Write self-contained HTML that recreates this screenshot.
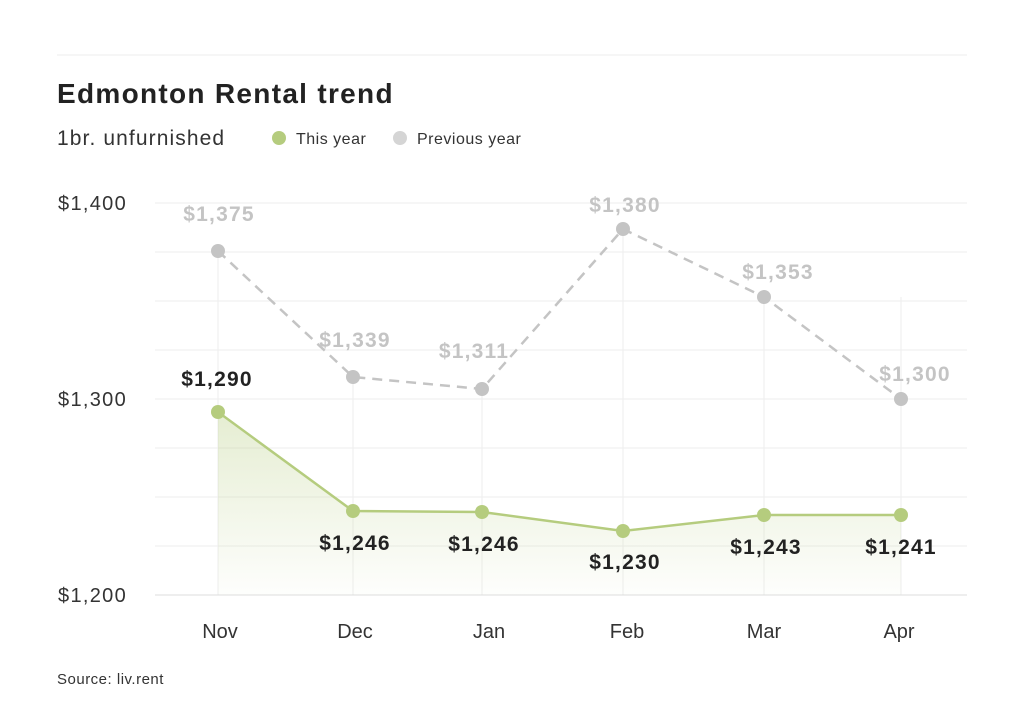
<!DOCTYPE html><html><head><style>body{margin:0;background:#fff}svg{display:block}</style></head><body>
<svg width="1024" height="717" xmlns="http://www.w3.org/2000/svg" font-family="Liberation Sans, sans-serif">
<defs><linearGradient id="g" x1="0" y1="0" x2="0" y2="1"><stop offset="0" stop-color="#b5cc7e" stop-opacity="0.35"/><stop offset="1" stop-color="#b5cc7e" stop-opacity="0.02"/></linearGradient></defs>
<line x1="57" y1="55" x2="967" y2="55" stroke="#eee"/>
<text x="57" y="103" font-size="28" font-weight="bold" fill="#222" letter-spacing="1.3">Edmonton Rental trend</text>
<text x="57" y="145" font-size="21" fill="#333" letter-spacing="1.1">1br. unfurnished</text>
<circle cx="279" cy="138" r="7" fill="#b5cc7e"/><text x="296" y="144" font-size="16" fill="#333" letter-spacing="0.5">This year</text>
<circle cx="400" cy="138" r="7" fill="#d5d5d5"/><text x="417" y="144" font-size="16" fill="#333" letter-spacing="0.5">Previous year</text>
<g stroke="#eee" stroke-width="1">
<line x1="155" y1="203" x2="967" y2="203"/><line x1="155" y1="252" x2="967" y2="252"/><line x1="155" y1="301" x2="967" y2="301"/><line x1="155" y1="350" x2="967" y2="350"/><line x1="155" y1="399" x2="967" y2="399"/><line x1="155" y1="448" x2="967" y2="448"/><line x1="155" y1="497" x2="967" y2="497"/><line x1="155" y1="546" x2="967" y2="546"/>
<line x1="218" y1="251" x2="218" y2="595"/><line x1="353" y1="377" x2="353" y2="595"/><line x1="482" y1="389" x2="482" y2="595"/><line x1="623" y1="229" x2="623" y2="595"/><line x1="764" y1="297" x2="764" y2="595"/><line x1="901" y1="297" x2="901" y2="595"/>
</g>
<line x1="155" y1="595" x2="967" y2="595" stroke="#ddd"/>
<g font-size="20" fill="#333" text-anchor="end" letter-spacing="1.3"><text x="127" y="210">$1,400</text><text x="127" y="406">$1,300</text><text x="127" y="602">$1,200</text></g>
<g font-size="20" fill="#333" text-anchor="middle"><text x="220" y="638">Nov</text><text x="355" y="638">Dec</text><text x="489" y="638">Jan</text><text x="627" y="638">Feb</text><text x="764" y="638">Mar</text><text x="899" y="638">Apr</text></g>
<path d="M218,412 L353,511 L482,512 L623,531 L764,515 L901,515 L901,595 L218,595Z" fill="url(#g)"/>
<polyline points="218,251 353,377 482,389 623,229 764,297 901,399" fill="none" stroke="#c4c4c4" stroke-width="2.5" stroke-dasharray="10,7"/>
<polyline points="218,412 353,511 482,512 623,531 764,515 901,515" fill="none" stroke="#b5cc7e" stroke-width="2.5"/>
<g fill="#c4c4c4"><circle cx="218" cy="251" r="7"/><circle cx="353" cy="377" r="7"/><circle cx="482" cy="389" r="7"/><circle cx="623" cy="229" r="7"/><circle cx="764" cy="297" r="7"/><circle cx="901" cy="399" r="7"/></g>
<g fill="#b5cc7e"><circle cx="218" cy="412" r="7"/><circle cx="353" cy="511" r="7"/><circle cx="482" cy="512" r="7"/><circle cx="623" cy="531" r="7"/><circle cx="764" cy="515" r="7"/><circle cx="901" cy="515" r="7"/></g>
<g font-size="21" font-weight="bold" fill="#c4c4c4" text-anchor="middle" letter-spacing="1.2"><text x="219" y="221">$1,375</text><text x="355" y="347">$1,339</text><text x="474" y="358">$1,311</text><text x="625" y="212">$1,380</text><text x="778" y="279">$1,353</text><text x="915" y="381">$1,300</text></g>
<g font-size="21" font-weight="bold" fill="#222" text-anchor="middle" letter-spacing="1.2"><text x="217" y="386">$1,290</text><text x="355" y="550">$1,246</text><text x="484" y="551">$1,246</text><text x="625" y="569">$1,230</text><text x="766" y="554">$1,243</text><text x="901" y="554">$1,241</text></g>
<text x="57" y="684" font-size="15" fill="#333" letter-spacing="0.5">Source: liv.rent</text>
</svg></body></html>
